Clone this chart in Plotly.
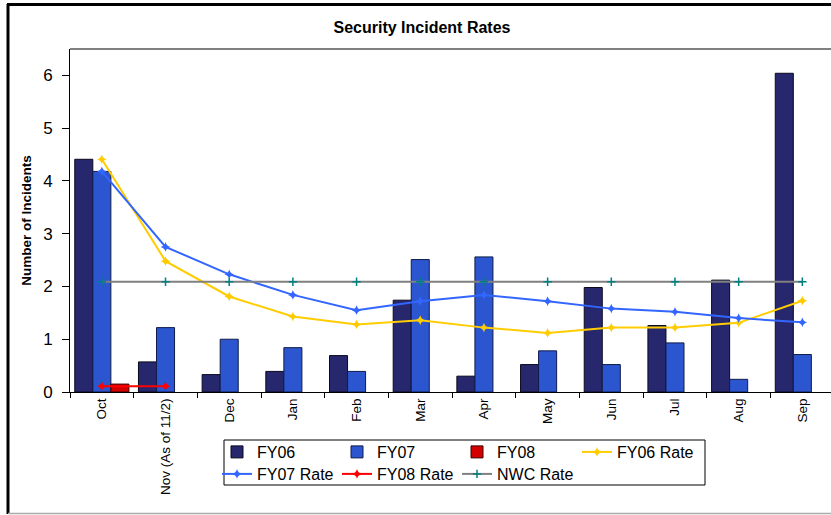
import plotly.graph_objects as go

# monthly incident counts per fiscal year
MONTHS = ["Oct", "Nov (As of 11/2)", "Dec", "Jan", "Feb", "Mar",
          "Apr", "May", "Jun", "Jul", "Aug", "Sep"]
FY06 = [4.41, 0.57, 0.33, 0.39, 0.69, 1.74, 0.30, 0.52, 1.98, 1.26, 2.12, 6.04]
FY07 = [4.18, 1.22, 1.00, 0.84, 0.39, 2.51, 2.56, 0.78, 0.52, 0.93, 0.24, 0.71]
FY08 = [0.15, None, None, None, None, None, None, None, None, None, None, None]

# cumulative rates
FY06_RATE = [4.41, 2.48, 1.81, 1.43, 1.28, 1.36, 1.22, 1.12, 1.22, 1.22, 1.31, 1.73]
FY07_RATE = [4.18, 2.75, 2.23, 1.84, 1.55, 1.72, 1.84, 1.72, 1.58, 1.52, 1.40, 1.32]
FY08_RATE = [0.11, 0.11, None, None, None, None, None, None, None, None, None, None]
NWC_RATE = [2.09, 2.09, 2.09, 2.09, 2.09, 2.09, 2.09, 2.09, 2.09, 2.09, 2.09, 2.09]

FONT = "Arial, Liberation Sans, sans-serif"

# plot area in pixels, used to place the frame and legend box
L, R, T, B = 70, 831, 49, 392
W, H = R - L, B - T


def px_x(p):
    return (p - L) / W


def px_y(p):
    return (B - p) / H


fig = go.Figure()

fig.add_trace(go.Bar(x=MONTHS, y=FY06, name="FY06", legend="legend",
                     marker={"color": "#27276e", "line": {"color": "#0a0a1e", "width": 1}}))
fig.add_trace(go.Bar(x=MONTHS, y=FY07, name="FY07", legend="legend",
                     marker={"color": "#2b56cf", "line": {"color": "#101c4a", "width": 1}}))
fig.add_trace(go.Bar(x=MONTHS, y=FY08, name="FY08", legend="legend",
                     marker={"color": "#d40000", "line": {"color": "#3a0000", "width": 1}}))

fig.add_trace(go.Scatter(x=MONTHS, y=FY06_RATE, name="FY06 Rate", mode="lines+markers",
                         legend="legend",
                         line={"color": "#ffcc00", "width": 2},
                         marker={"symbol": "star-diamond", "size": 7, "color": "#ffcc00"}))
fig.add_trace(go.Scatter(x=MONTHS, y=FY07_RATE, name="FY07 Rate", mode="lines+markers",
                         legend="legend2",
                         line={"color": "#3366ff", "width": 2},
                         marker={"symbol": "star-diamond", "size": 7, "color": "#3366ff"}))
fig.add_trace(go.Scatter(x=MONTHS, y=FY08_RATE, name="FY08 Rate", mode="lines+markers",
                         legend="legend2",
                         line={"color": "#ff0000", "width": 2},
                         marker={"symbol": "star-diamond", "size": 7, "color": "#ff0000"}))
fig.add_trace(go.Scatter(x=MONTHS, y=NWC_RATE, name="NWC Rate", mode="lines+markers",
                         legend="legend2",
                         line={"color": "#808080", "width": 2},
                         marker={"symbol": "cross-thin", "size": 6,
                                 "line": {"color": "#008080", "width": 1.5}}))

legend_common = dict(orientation="h", xanchor="left", yanchor="middle",
                     x=px_x(217), entrywidth=75, entrywidthmode="pixels",
                     font={"family": FONT, "size": 16, "color": "#000"},
                     bgcolor="rgba(0,0,0,0)", borderwidth=0, traceorder="normal")

fig.update_layout(
    width=831, height=515,
    margin={"l": L, "r": 0, "t": T, "b": 515 - B},
    paper_bgcolor="white", plot_bgcolor="white",
    barmode="group", bargap=0.15, bargroupgap=0,
    title={"text": "<b>Security Incident Rates</b>", "x": 422 / 831, "xanchor": "center",
           "y": 1 - 27 / 515, "yanchor": "middle",
           "font": {"family": FONT, "size": 16, "color": "#000"}},
    legend={**legend_common, "y": px_y(452)},
    legend2={**legend_common, "y": px_y(474)},
    showlegend=True,
)

fig.update_xaxes(type="category", range=[-0.5, 11.45], showgrid=False, zeroline=False,
                 showline=True, linecolor="#000", linewidth=1,
                 ticks="outside", tickson="boundaries", ticklen=5, tickcolor="#000",
                 tickangle=-90, tickfont={"family": FONT, "size": 13.5, "color": "#000"})
fig.update_yaxes(range=[0, 6.5], tickvals=[0, 1, 2, 3, 4, 5, 6], showgrid=False,
                 zeroline=False, showline=True, linecolor="#000", linewidth=1,
                 ticks="outside", ticklen=7, tickcolor="#000", ticklabelstandoff=6,
                 tickfont={"family": FONT, "size": 17, "color": "#000"},
                 title={"text": "<b>Number of Incidents</b>", "standoff": 8,
                        "font": {"family": FONT, "size": 13.5, "color": "#000"}})

# chart border, plot area frame and legend box
shapes = [
    dict(type="line", xref="paper", yref="paper", x0=px_x(8), x1=px_x(8),
         y0=px_y(4), y1=px_y(514), line={"color": "#000", "width": 3}),
    dict(type="line", xref="paper", yref="paper", x0=px_x(7), x1=px_x(835),
         y0=px_y(4.5), y1=px_y(4.5), line={"color": "#000", "width": 3}),
    dict(type="line", xref="paper", yref="paper", x0=px_x(8), x1=px_x(835),
         y0=px_y(513.5), y1=px_y(513.5), line={"color": "#aaaaaa", "width": 1.5}),
    dict(type="line", xref="paper", yref="paper", x0=0, x1=px_x(835),
         y0=1, y1=1, line={"color": "#808080", "width": 2}),
    dict(type="rect", xref="paper", yref="paper", x0=px_x(224), x1=px_x(705),
         y0=px_y(485), y1=px_y(440), line={"color": "#000", "width": 1}),
]
fig.update_layout(shapes=shapes)

# page body has a default 8px margin; drop it so the figure fills the window
fig.write_html("out.html", config={"displayModeBar": False},
               post_script="document.body.style.margin='0px';"
                           "document.body.style.overflow='hidden';")
